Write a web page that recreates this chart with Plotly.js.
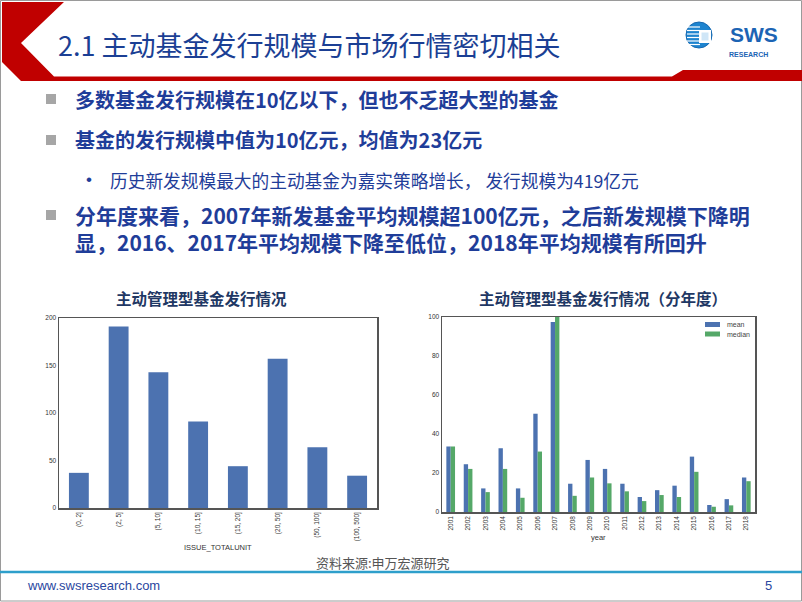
<!DOCTYPE html>
<html>
<head>
<meta charset="utf-8">
<script src="https://cdn.plot.ly/plotly-3.0.1.min.js"></script>
<style>
html, body { margin:0; padding:0; overflow:hidden; background:#fff; }
#chart { width:802px; height:602px; }
</style>
</head>
<body>
<div id="chart"></div>
<script>
// ---- data ----
const binLabels = ['(0, 2]', '(2, 5]', '(5, 10]', '(10, 15]', '(15, 20]', '(20, 50]', '(50, 100]', '(100, 500]'];
const binCounts = [37, 191, 143, 91, 44, 157, 64, 34];

const years = ['2001','2002','2003','2004','2005','2006','2007','2008','2009','2010','2011','2012','2013','2014','2015','2016','2017','2018'];
const meanSize   = [33.6, 24.5, 12.1, 32.7, 12.1, 50.4, 97.4, 14.5, 26.7, 22.1, 14.5, 7.7, 11.2, 13.5, 28.4, 3.6, 6.6, 17.7];
const medianSize = [33.6, 22.1, 10.2, 22.1, 7.3, 31.0, 100, 8.3, 17.7, 14.7, 10.6, 5.6, 8.7, 7.7, 20.6, 2.7, 3.4, 15.8];
const seriesNames = ['mean', 'median'];

const leftTicks = [0, 50, 100, 150, 200];
const rightTicks = [0, 20, 40, 60, 80, 100];
const leftXTitle = 'ISSUE_TOTALUNIT';
const rightXTitle = 'year';

const slideTitle = '2.1 主动基金发行规模与市场行情密切相关';
const bullets = [
  '多数基金发行规模在10亿以下，但也不乏超大型的基金',
  '基金的发行规模中值为10亿元，均值为23亿元'
];
const subBullet = '历史新发规模最大的主动基金为嘉实策略增长， 发行规模为419亿元';
const bullet3 = ['分年度来看，2007年新发基金平均规模超100亿元，之后新发规模下降明',
                 '显，2016、2017年平均规模下降至低位，2018年平均规模有所回升'];
const chartTitle1 = '主动管理型基金发行情况';
const chartTitle2 = '主动管理型基金发行情况（分年度）';
const sourceText = '资料来源:申万宏源研究';
const siteText = 'www.swsresearch.com';
const pageNum = '5';

// ---- layout helpers ----
const W = 802, H = 602;
const X = p => p / W;
const Y = p => 1 - p / H;
const BLUE = '#4C72B0', GREEN = '#55A868';
const NAVY = '#1F3D99';
const CJK = '"Noto Sans CJK SC", "Noto Sans", sans-serif';
const SANS = '"Liberation Sans", Arial, sans-serif';

const traces = [
  { type:'bar', x: binLabels, y: binCounts, xaxis:'x', yaxis:'y', width:0.5,
    marker:{color:BLUE}, showlegend:false, hoverinfo:'skip' },
  { type:'bar', name: seriesNames[0], x: years, y: meanSize, xaxis:'x2', yaxis:'y2',
    width:0.25, offset:-0.25, marker:{color:BLUE}, showlegend:false },
  { type:'bar', name: seriesNames[1], x: years, y: medianSize, xaxis:'x2', yaxis:'y2',
    width:0.25, offset:0, marker:{color:GREEN}, showlegend:false }
];

function path(pts) {
  return 'M ' + pts.map(p => X(p[0]).toFixed(5) + ' ' + Y(p[1]).toFixed(5)).join(' L ') + ' Z';
}

const shapes = [
  // slide border
  { type:'rect', xref:'paper', yref:'paper', x0:X(0.5), x1:X(801.5), y0:Y(0.5), y1:Y(601), line:{color:'#9a9a9a', width:1}, fillcolor:'rgba(0,0,0,0)' },
  // red header chevron + band
  { type:'path', xref:'paper', yref:'paper', fillcolor:'#C00000', line:{width:0},
    path: path([[2,2],[64,2],[21,43],[54,76.5],[672,76.5],[683,70],[802,70],[802,81],[21,81],[2,62]]) },
  // footer line
  { type:'line', xref:'paper', yref:'paper', x0:X(0), x1:X(802), y0:Y(572), y1:Y(572), line:{color:'#2E9FCB', width:2.5} },
  // bullet squares
  { type:'rect', xref:'paper', yref:'paper', x0:X(46), x1:X(56), y0:Y(94), y1:Y(104), fillcolor:'#A6A6A6', line:{width:0} },
  { type:'rect', xref:'paper', yref:'paper', x0:X(46), x1:X(56), y0:Y(135), y1:Y(145), fillcolor:'#A6A6A6', line:{width:0} },
  { type:'rect', xref:'paper', yref:'paper', x0:X(46), x1:X(56), y0:Y(210), y1:Y(220), fillcolor:'#A6A6A6', line:{width:0} },
  // logo circle
  { type:'circle', xref:'paper', yref:'paper', x0:X(686), x1:X(712), y0:Y(22), y1:Y(48), fillcolor:'#1E84CF', line:{color:'#1668B0', width:1} },
];
// logo stripes
[27, 30.5, 34, 37.5, 41, 44.5].forEach(yy => {
  shapes.push({ type:'line', xref:'paper', yref:'paper', x0:X(687), x1:X(700), y0:Y(yy), y1:Y(yy), line:{color:'#ffffff', width:1.2} });
});
shapes.push({ type:'rect', xref:'paper', yref:'paper', x0:X(699), x1:X(711), y0:Y(30), y1:Y(43), fillcolor:'#ffffff', line:{width:0} });
shapes.push({ type:'rect', xref:'paper', yref:'paper', x0:X(701.5), x1:X(708.5), y0:Y(32.5), y1:Y(40.5), fillcolor:'#cfe6f7', line:{width:0} });
// manual legend swatches
shapes.push({ type:'rect', xref:'paper', yref:'paper', x0:X(705), x1:X(720), y0:Y(322), y1:Y(327), fillcolor:BLUE, line:{width:0} });
shapes.push({ type:'rect', xref:'paper', yref:'paper', x0:X(705), x1:X(720), y0:Y(331.5), y1:Y(336.5), fillcolor:GREEN, line:{width:0} });

function ann(text, x, y, size, color, opts) {
  return Object.assign({ text, x:X(x), y:Y(y), xref:'paper', yref:'paper', showarrow:false,
    xanchor:'left', yanchor:'middle', font:{family:CJK, size, color} }, opts || {});
}
const bold = (size, color, fam) => ({family: fam || CJK, size, color, weight:700});

const annotations = [
  ann(slideTitle, 56, 45, 27, '#1B3F94'),
  ann('SWS', 729, 35, 21, '#1C64B4', {font:bold(21, '#1C64B4', SANS), borderpad:0}),
  ann('RESEARCH', 728, 54, 7, '#1C64B4', {font:bold(7, '#1C64B4', SANS), borderpad:0}),
  ann(bullets[0], 73, 99, 20, NAVY, {font:bold(20, NAVY)}),
  ann(bullets[1], 73, 140, 20, NAVY, {font:bold(20, NAVY)}),
  ann('•', 84, 180, 17, NAVY, {font:{family:SANS, size:17, color:NAVY}}),
  ann(subBullet, 108, 180, 17.7, NAVY),
  ann(bullet3.join('<br>'), 73, 228.5, 21, NAVY, {font:bold(21, NAVY), align:'left'}),
  ann(chartTitle1, 201, 298, 15.5, '#1F3864', {xanchor:'center', font:bold(15.5, '#1F3864')}),
  ann(chartTitle2, 603, 298, 15.5, '#1F3864', {xanchor:'center', font:bold(15.5, '#1F3864')}),
  ann(seriesNames[0], 725, 324.5, 7, '#444', {font:{family:SANS, size:7, color:'#444'}}),
  ann(seriesNames[1], 725, 334, 7, '#444', {font:{family:SANS, size:7, color:'#444'}}),
  ann(leftXTitle, 218, 547, 7.5, '#333', {xanchor:'center', font:{family:SANS, size:7.5, color:'#333'}}),
  ann(rightXTitle, 598, 537, 7.5, '#333', {xanchor:'center', font:{family:SANS, size:7.5, color:'#333'}}),
  ann(sourceText, 314, 562, 13, '#555'),
  ann(siteText, 25, 585, 13, '#2A47A0', {font:{family:SANS, size:13, color:'#2A47A0'}}),
  ann(pageNum, 763, 585, 13, '#2A47A0', {font:{family:SANS, size:13, color:'#2A47A0'}})
];

const axisCommon = {
  showline:true, mirror:true, linecolor:'#555', linewidth:1.5,
  showgrid:false, zeroline:false, ticks:'', automargin:false,
  tickfont:{family:SANS, size:6.5, color:'#333'}
};

const layout = {
  width:W, height:H,
  margin:{l:0, r:0, t:0, b:0},
  paper_bgcolor:'#ffffff', plot_bgcolor:'#ffffff',
  barmode:'overlay',
  showlegend:false,
  xaxis: Object.assign({}, axisCommon, {
    domain:[X(59), X(377)], anchor:'y', type:'category', range:[-0.5, 7.5], tickangle:-90
  }),
  yaxis: Object.assign({}, axisCommon, {
    domain:[Y(508), Y(318)], anchor:'x', range:[0, 200], tickvals:leftTicks
  }),
  xaxis2: Object.assign({}, axisCommon, {
    domain:[X(442), X(755)], anchor:'y2', type:'category', range:[-0.5, 17.5], tickangle:-90
  }),
  yaxis2: Object.assign({}, axisCommon, {
    domain:[Y(512), Y(317)], anchor:'x2', range:[0, 100], tickvals:rightTicks
  }),
  shapes, annotations
};

Plotly.newPlot('chart', traces, layout, {staticPlot:true, displayModeBar:false});
</script>
</body>
</html>
